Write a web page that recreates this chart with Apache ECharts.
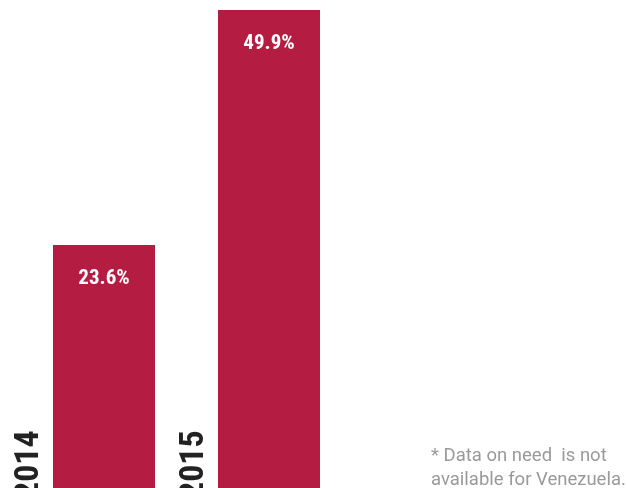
<!DOCTYPE html>
<html>
<head>
<meta charset="utf-8">
<script src="https://cdn.jsdelivr.net/npm/echarts@6/dist/echarts.min.js"></script>
<style>
  html, body { margin: 0; padding: 0; background: #fff; }
  #chart { width: 627px; height: 488px; }
</style>
</head>
<body>
<div id="chart"></div>
<script>
// Share of population in need, by year
const years = ['2014', '2015'];
const shares = [23.6, 49.9];
const footnoteLines = ['* Data on need  is not', 'available for Venezuela.'];

const BAR_COLOR = '#b51c42';
const condensed = '"Liberation Sans Narrow", "Roboto Condensed", "DejaVu Sans Condensed", sans-serif';

const chart = echarts.init(document.getElementById('chart'), null, { renderer: 'canvas' });

chart.setOption({
  animation: false,
  backgroundColor: '#ffffff',
  grid: { left: 21.5, right: 275.5, top: 10, bottom: 0 },
  xAxis: {
    type: 'category',
    data: years,
    axisLine: { show: false },
    axisTick: { show: false },
    axisLabel: { show: false }
  },
  yAxis: {
    type: 'log',
    min: 10.88,
    max: 49.9,
    show: false,
    splitLine: { show: false }
  },
  series: [{
    type: 'bar',
    data: shares,
    barWidth: 102,
    clip: true,
    itemStyle: { color: BAR_COLOR },
    label: {
      show: true,
      position: 'insideTop',
      distance: 23,
      formatter: p => p.value.toFixed(1) + '%',
      color: '#ffffff',
      fontFamily: condensed,
      fontWeight: 'bold',
      fontSize: 21
    }
  }]
});

// Rotated year labels sitting just left of each bar, running off the bottom edge
const yearGraphics = years.map((y, i) => {
  const cx = chart.convertToPixel({ xAxisIndex: 0 }, y);
  return {
    type: 'text',
    x: cx - 51 - 7,
    y: 499,
    rotation: Math.PI / 2,
    style: {
      text: y,
      fontFamily: condensed,
      fontWeight: 'bold',
      fontSize: 34,
      fill: '#222222',
      align: 'left',
      verticalAlign: 'bottom'
    }
  };
});

chart.setOption({
  graphic: yearGraphics.concat([{
    type: 'text',
    left: 431,
    top: 444,
    style: {
      text: footnoteLines.join('\n'),
      fontFamily: 'Roboto, sans-serif',
      fontSize: 18.5,
      lineHeight: 24,
      fill: '#9a9a9a'
    }
  }])
});
</script>
</body>
</html>
